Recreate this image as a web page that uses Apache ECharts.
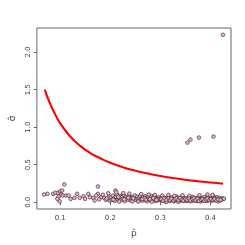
<!DOCTYPE html>
<html><head><meta charset="utf-8">
<script src="https://cdn.jsdelivr.net/npm/echarts@6/dist/echarts.min.js"></script>
<style>html,body{margin:0;padding:0;background:#fff}#c{width:245px;height:245px}</style>
</head><body><div id="c"></div>
<script>
const xTicks = [0.1, 0.2, 0.3, 0.4];
const yTicks = [0.0, 0.5, 1.0, 1.5, 2.0];
const xTitle = 'p\u0302';
const yTitle = '\u03c3\u0302';

const curveP = [0.069,0.080,0.090,0.100,0.120,0.140,0.160,0.180,0.200,0.225,0.250,0.275,0.300,0.325,0.350,0.375,0.400,0.425];
const curveV = [1.50,1.31,1.17,1.05,0.875,0.75,0.655,0.585,0.525,0.467,0.42,0.382,0.35,0.323,0.30,0.28,0.262,0.247];

const outliers = [[0.354,0.794],[0.360,0.834],[0.377,0.861],[0.406,0.874],[0.425,2.23]];

const leftPts = [[0.068,0.103],[0.0746,0.112],[0.086,0.112],[0.0904,0.126],[0.0956,0.126],[0.1,0.143],[0.1038,0.156],[0.1084,0.237],[0.1019,0.103],[0.097,0.076],[0.105,0.09],[0.1115,0.09],[0.1166,0.09],[0.0989,0.013],[0.0943,0.045],[0.121,0.045],[0.1287,0.059],[0.1338,0.112],[0.139,0.059],[0.1467,0.08],[0.1497,0.045],[0.1562,0.112],[0.1593,0.067],[0.1658,0.059],[0.1688,0.023],[0.1753,0.21],[0.1753,0.112],[0.1816,0.067],[0.188,0.059],[0.191,0.032],[0.1975,0.076],[0.2027,0.045],[0.2103,0.156],[0.2103,0.067],[0.2166,0.045],[0.2231,0.09],[0.2294,0.067],[0.2358,0.045],[0.2422,0.067],[0.172,0.09],[0.178,0.04],[0.185,0.1],[0.193,0.05],[0.196,0.12],[0.199,0.02]];

const bandA = [[0.201,0.062],[0.203,0.031],[0.205,0.088],[0.207,0.047],[0.209,0.019],[0.211,0.074],[0.213,0.105],[0.215,0.038],[0.217,0.056],[0.219,0.083],[0.221,0.027],[0.223,0.064],[0.225,0.044],[0.227,0.097],[0.229,0.015],[0.231,0.071],[0.233,0.052],[0.235,0.036],[0.237,0.082],[0.239,0.061],[0.241,0.024],[0.243,0.048],[0.245,0.068],[0.247,0.035],[0.249,0.091],[0.212,0.133],[0.226,0.121],[0.238,0.115],[0.244,0.012],[0.218,0.009]];

const bandB = [[0.251,0.055],[0.252,0.028],[0.254,0.074],[0.255,0.042],[0.257,0.018],[0.258,0.063],[0.26,0.086],[0.261,0.037],[0.263,0.051],[0.264,0.022],[0.266,0.069],[0.267,0.044],[0.269,0.031],[0.27,0.078],[0.272,0.057],[0.273,0.013],[0.275,0.046],[0.276,0.066],[0.278,0.029],[0.279,0.052],[0.281,0.039],[0.282,0.083],[0.284,0.021],[0.285,0.061],[0.287,0.047],[0.288,0.034],[0.29,0.072],[0.291,0.016],[0.293,0.054],[0.294,0.041],[0.296,0.026],[0.297,0.065],[0.299,0.048],[0.262,0.108],[0.277,0.101],[0.289,0.095],[0.256,0.009],[0.283,0.007],[0.268,0.058],[0.295,0.036]];

const bandC = [[0.301,0.033],[0.302,0.056],[0.303,0.021],[0.305,0.044],[0.306,0.067],[0.307,0.029],[0.309,0.049],[0.31,0.012],[0.311,0.038],[0.313,0.059],[0.314,0.025],[0.315,0.046],[0.317,0.071],[0.318,0.032],[0.319,0.017],[0.321,0.052],[0.322,0.039],[0.323,0.063],[0.325,0.027],[0.326,0.045],[0.327,0.014],[0.329,0.055],[0.33,0.034],[0.331,0.078],[0.333,0.023],[0.334,0.048],[0.335,0.037],[0.337,0.061],[0.338,0.019],[0.339,0.043],[0.341,0.031],[0.342,0.057],[0.343,0.026],[0.345,0.041],[0.346,0.068],[0.347,0.015],[0.349,0.036],[0.304,0.089],[0.316,0.098],[0.328,0.085],[0.336,0.006],[0.344,0.092],[0.312,0.004],[0.324,0.041],[0.348,0.052]];

const bandD = [[0.351,0.028],[0.352,0.047],[0.353,0.018],[0.355,0.039],[0.356,0.061],[0.357,0.024],[0.359,0.044],[0.36,0.033],[0.361,0.013],[0.363,0.052],[0.364,0.029],[0.365,0.071],[0.367,0.037],[0.368,0.021],[0.369,0.049],[0.371,0.034],[0.372,0.058],[0.373,0.016],[0.375,0.042],[0.376,0.027],[0.377,0.064],[0.379,0.036],[0.38,0.011],[0.381,0.046],[0.383,0.031],[0.384,0.055],[0.385,0.022],[0.387,0.041],[0.388,0.069],[0.389,0.026],[0.391,0.048],[0.392,0.035],[0.393,0.017],[0.395,0.057],[0.396,0.039],[0.397,0.029],[0.399,0.051],[0.358,0.086],[0.378,0.094],[0.394,0.104]];

const bandE = [[0.401,0.032],[0.402,0.061],[0.403,0.021],[0.405,0.045],[0.406,0.082],[0.407,0.036],[0.409,0.054],[0.41,0.026],[0.411,0.043],[0.413,0.067],[0.414,0.031],[0.415,0.049],[0.417,0.038],[0.418,0.058],[0.419,0.024],[0.421,0.044],[0.422,0.035],[0.424,0.052],[0.425,0.041],[0.427,0.048],[0.404,0.098],[0.416,0.012]];

const bandF = [[0.302,0.041],[0.306,0.022],[0.308,0.052],[0.312,0.031],[0.316,0.054],[0.319,0.028],[0.322,0.047],[0.326,0.019],[0.329,0.038],[0.332,0.051],[0.336,0.029],[0.339,0.056],[0.343,0.035],[0.346,0.022],[0.35,0.045],[0.353,0.032],[0.357,0.051],[0.36,0.024],[0.364,0.041],[0.367,0.055],[0.37,0.027],[0.374,0.046],[0.377,0.018],[0.381,0.033],[0.384,0.043],[0.388,0.021],[0.391,0.038],[0.394,0.049],[0.398,0.027],[0.401,0.043],[0.405,0.029],[0.408,0.041],[0.412,0.021],[0.415,0.036],[0.42,0.031],[0.264,0.041],[0.271,0.034],[0.279,0.041],[0.286,0.055],[0.292,0.031],[0.246,0.052],[0.236,0.058],[0.228,0.038],[0.216,0.071],[0.206,0.035]];

const scatterData = [].concat(leftPts, bandA, bandB, bandC, bandD, bandE, bandF, outliers);
const curveData = curveP.map((p, i) => [p, curveV[i]]);

const chart = echarts.init(document.getElementById('c'), null, {renderer: 'canvas'});
const axisFont = {fontFamily: 'DejaVu Sans', fontSize: 7, color: '#444'};
chart.setOption({
  animation: false,
  grid: {left: 28, right: 14, top: 28, bottom: 36, show: true, borderColor: '#666', borderWidth: 1, backgroundColor: 'transparent'},
  xAxis: {
    type: 'value', min: 0.0535, max: 0.441,
    splitLine: {show: false},
    axisLine: {show: false},
    axisTick: {show: true, length: 3, lineStyle: {color: '#666'}, customValues: xTicks},
    axisLabel: Object.assign({margin: 6, customValues: xTicks, formatter: v => v.toFixed(1)}, axisFont),
    name: xTitle, nameLocation: 'middle', nameGap: 20,
    nameTextStyle: {fontFamily: 'DejaVu Sans', fontSize: 9, color: '#444'}
  },
  yAxis: {
    type: 'value', min: -0.09, max: 2.32,
    splitLine: {show: false},
    axisLine: {show: false},
    axisTick: {show: true, length: 3, lineStyle: {color: '#666'}, customValues: yTicks},
    axisLabel: Object.assign({margin: 5, rotate: 90, customValues: yTicks, formatter: v => v.toFixed(1)}, axisFont),
    name: yTitle, nameLocation: 'middle', nameGap: 19, nameRotate: 90,
    nameTextStyle: {fontFamily: 'DejaVu Sans', fontSize: 9, color: '#444'}
  },
  series: [
    {
      type: 'scatter', data: scatterData, symbol: 'circle', symbolSize: 3.6,
      itemStyle: {color: '#f2b8c4', borderColor: '#3d2c33', borderWidth: 0.7, opacity: 1}
    },
    {
      type: 'line', data: curveData, smooth: true, showSymbol: false,
      lineStyle: {color: '#ff0000', width: 2.1}
    }
  ]
});
</script></body></html>
